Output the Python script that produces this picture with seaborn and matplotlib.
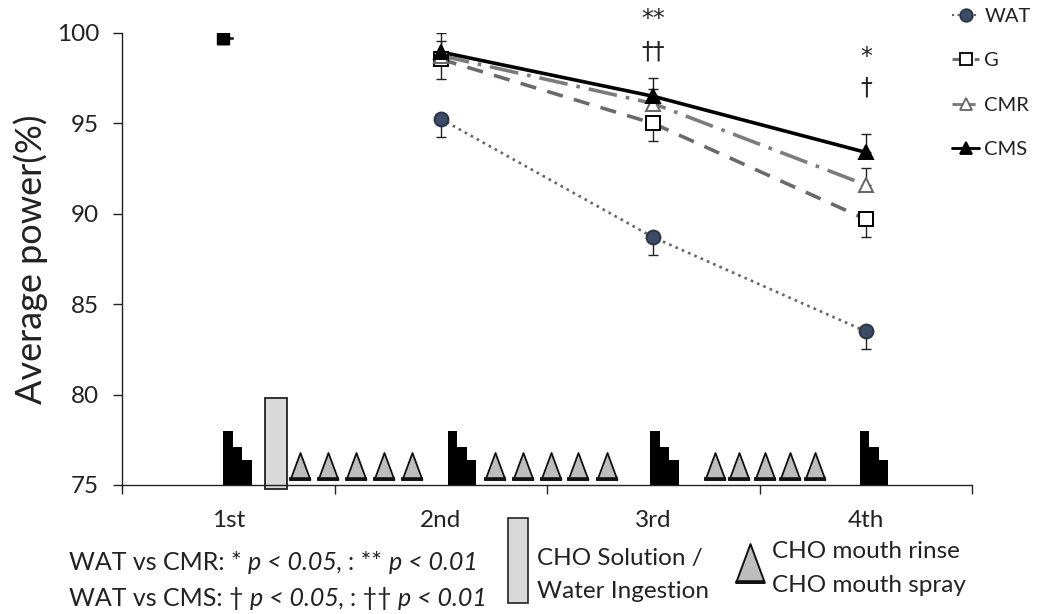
import matplotlib
matplotlib.use('Agg')
import matplotlib.pyplot as plt
from matplotlib.lines import Line2D
from matplotlib.patches import Rectangle
from matplotlib.path import Path
import seaborn as sns

# sessions (sprint bouts) and groups
sessions = ['1st', '2nd', '3rd', '4th']
session_pos = [1, 2, 3, 4]
groups = ['WAT', 'G', 'CMR', 'CMS']

# average power (%) per session
wat = [99.7, 95.25, 88.7, 83.5]
g = [99.7, 98.55, 95.0, 89.7]
cmr = [99.7, 98.75, 96.1, 91.6]
cms = [99.7, 98.95, 96.5, 93.4]

# one-sided SE bars: WAT and G drawn downward, CMR and CMS upward
wat_err = [0.0, 1.0, 1.0, 1.0]
g_err = [0.0, 1.1, 1.0, 1.0]
cmr_err = [0.0, 0.8, 0.8, 0.95]
cms_err = [0.0, 1.05, 1.0, 1.0]

# protocol symbols along the bottom of the plot
stair_start = [0.977, 2.033, 2.986, 3.972]
stair_tops = [78.0, 77.1, 76.4]
ingestion_x = [1.225]
ingestion_top = [79.8]
rinse_x = [1.339, 1.471, 1.602, 1.734, 1.866,
           2.256, 2.388, 2.520, 2.647, 2.784,
           3.292, 3.405, 3.527, 3.645, 3.762]
rinse_mid = 76.05

# significance marks
sig_marks = [(3, 100.75, '**'), (3, 98.95, '\u2020\u2020'),
             (4, 98.7, '*'), (4, 97.0, '\u2020')]


def text_chain(ax, pieces, start, size):
    """Write pieces of text one after another, switching italic on/off."""
    prev = None
    for txt, italic in pieces:
        style = 'italic' if italic else 'normal'
        if prev is None:
            prev = ax.annotate(txt, xy=start, xycoords='figure pixels',
                               va='center', ha='left', fontsize=size,
                               fontstyle=style, annotation_clip=False)
        else:
            prev = ax.annotate(txt, xy=(1, 0), xycoords=prev,
                               va='bottom', ha='left', fontsize=size,
                               fontstyle=style, annotation_clip=False)


sns.set_theme(style='ticks')
plt.rcParams['font.family'] = ['Lato', 'DejaVu Sans']
plt.rcParams['text.color'] = '#222222'
plt.rcParams['axes.labelcolor'] = '#222222'
plt.rcParams['xtick.color'] = '#222222'
plt.rcParams['ytick.color'] = '#222222'

fig = plt.figure(figsize=(10.41, 6.14), dpi=100)
ax = fig.add_axes([122 / 1041, 129 / 614, 850 / 1041, 452 / 614])

styles = {
    'WAT': dict(color='#666666', ls=(0, (1, 1.6)), lw=1.9, marker='o',
                mfc='#3d4b66', mec='#2b3447', ms=10),
    'G': dict(color='#6a6a6a', ls=(0, (4.5, 3.2)), lw=2.6, marker='s',
              mfc='white', mec='black', ms=9.5),
    'CMR': dict(color='#7c7c7c', ls=(0, (8, 2.5, 1, 2.5)), lw=2.6,
                marker='^', mfc='white', mec='#666666', ms=10),
    'CMS': dict(color='black', ls='-', lw=2.6, marker='^',
                mfc='black', mec='black', ms=10),
}
values = {'WAT': wat, 'G': g, 'CMR': cmr, 'CMS': cms}
errors = {'WAT': wat_err, 'G': g_err, 'CMR': cmr_err, 'CMS': cms_err}
err_down = {'WAT': True, 'G': True, 'CMR': False, 'CMS': False}

# lines start at the 2nd session
for grp in groups:
    st = styles[grp]
    sns.lineplot(x=session_pos[1:], y=values[grp][1:], ax=ax,
                 color=st['color'], linestyle=st['ls'], linewidth=st['lw'],
                 errorbar=None, zorder=2)

for grp in groups:
    st = styles[grp]
    zeros = [0.0] * len(errors[grp])
    yerr = [errors[grp], zeros] if err_down[grp] else [zeros, errors[grp]]
    ax.errorbar(session_pos, values[grp], yerr=yerr, fmt='none',
                ecolor='#222222', elinewidth=1.0, capsize=3.8,
                capthick=1.0, zorder=3)
    ax.plot(session_pos[1:], values[grp][1:], ls='none', marker=st['marker'],
            ms=st['ms'], mfc=st['mfc'], mec=st['mec'], mew=1.4, zorder=4)
    # baseline bout: all groups stacked, drawn small and black
    ax.plot([session_pos[0] - 0.025], values[grp][:1], ls='none',
            marker=st['marker'], ms=8, color='black', zorder=4)

# staircase symbols for each sprint bout
step_w = 0.045
for s0 in stair_start:
    xs = [s0 + step_w * (i + 0.5) for i in range(len(stair_tops))]
    ax.bar(xs, [t - 75 for t in stair_tops], bottom=75, width=step_w,
           color='black', edgecolor='black', linewidth=0, zorder=2,
           clip_on=False)

# CHO solution / water ingestion box
ax.bar(ingestion_x, [t - 74.8 for t in ingestion_top], bottom=74.8,
       width=0.102, color='#d9d9d9', edgecolor='#222222', linewidth=1.3,
       zorder=2, clip_on=False)

# mouth rinse / spray triangles
tri = Path([(-0.37, -0.5), (0.37, -0.5), (0, 0.5), (-0.37, -0.5)],
           [Path.MOVETO, Path.LINETO, Path.LINETO, Path.CLOSEPOLY])
ax.plot(rinse_x, [rinse_mid] * len(rinse_x), ls='none', marker=tri,
        ms=19.4, mfc='#bdbdbd', mec='#111111', mew=1.3, zorder=2)
ax.plot(rinse_x, [rinse_mid - 0.72] * len(rinse_x), ls='none', marker='_',
        ms=15.5, mew=2.6, color='#111111', zorder=2)

for xpos, ypos, mark in sig_marks:
    ax.text(xpos, ypos, mark, ha='center', va='center', fontsize=17,
            family=['DejaVu Sans'], clip_on=False)

ax.set_xlim(0.5, 4.5)
ax.set_ylim(75, 100)
ax.set_xticks([0.5, 1.5, 2.5, 3.5, 4.5])
ax.set_xticklabels([])
ax.set_xticks(session_pos, minor=True)
ax.set_xticklabels(sessions, minor=True)
ax.tick_params(axis='x', which='major', length=6.5, width=1.0,
               direction='out')
ax.tick_params(axis='x', which='minor', length=0, pad=18, labelsize=17.5)
ax.set_yticks([75, 80, 85, 90, 95, 100])
ax.tick_params(axis='y', length=6.5, width=1.0, pad=10, labelsize=17.5)
ax.set_ylabel('Average power(%)', fontsize=26, labelpad=6)
for side in ['left', 'bottom']:
    ax.spines[side].set_linewidth(1.0)
    ax.spines[side].set_color('#222222')
sns.despine(ax=ax)

# group legend in the upper right corner
handles = [Line2D([], [], color=styles[grp]['color'], ls=styles[grp]['ls'],
                  lw=styles[grp]['lw'] * 0.8, marker=styles[grp]['marker'],
                  ms=styles[grp]['ms'] * 0.9, mfc=styles[grp]['mfc'],
                  mec=styles[grp]['mec'], mew=1.3)
           for grp in groups]
fig.legend(handles, groups, loc='upper left',
           bbox_to_anchor=(952 / 1041, 1 - 8 / 614), frameon=False,
           fontsize=14.5, handlelength=1.35, handletextpad=0.25,
           labelspacing=1.35, borderaxespad=0, borderpad=0)

# footnote with significance levels
text_chain(ax, [('WAT vs CMR: * ', False), ('p < 0.05, ', True),
                (': ** ', False), ('p < 0.01', True)], (69, 614 - 563), 18)
text_chain(ax, [('WAT vs CMS: \u2020 ', False), ('p < 0.05, ', True),
                (': \u2020\u2020 ', False), ('p < 0.01', True)],
           (69, 614 - 598), 18)

# symbol key
fig.patches.append(Rectangle((508 / 1041, 1 - 603 / 614), 20 / 1041,
                             85 / 614, transform=fig.transFigure,
                             facecolor='#d9d9d9', edgecolor='#222222',
                             linewidth=1.2))
fig.text(537 / 1041, 1 - 558 / 614, 'CHO Solution /', fontsize=17.5,
         va='center', ha='left')
fig.text(537 / 1041, 1 - 592 / 614, 'Water Ingestion', fontsize=17.5,
         va='center', ha='left')
fig.add_artist(Line2D([750 / 1041], [1 - 563 / 614], ls='none', marker=tri,
                      ms=28, mfc='#bdbdbd', mec='#111111', mew=1.4,
                      transform=fig.transFigure))
fig.add_artist(Line2D([737 / 1041, 763 / 1041], [1 - 582 / 614] * 2,
                      color='#111111', lw=2.6, transform=fig.transFigure))
fig.text(772 / 1041, 1 - 552 / 614, 'CHO mouth rinse', fontsize=17.5,
         va='center', ha='left')
fig.text(772 / 1041, 1 - 585 / 614, 'CHO mouth spray', fontsize=17.5,
         va='center', ha='left')

fig.savefig('out.png', dpi=100)
